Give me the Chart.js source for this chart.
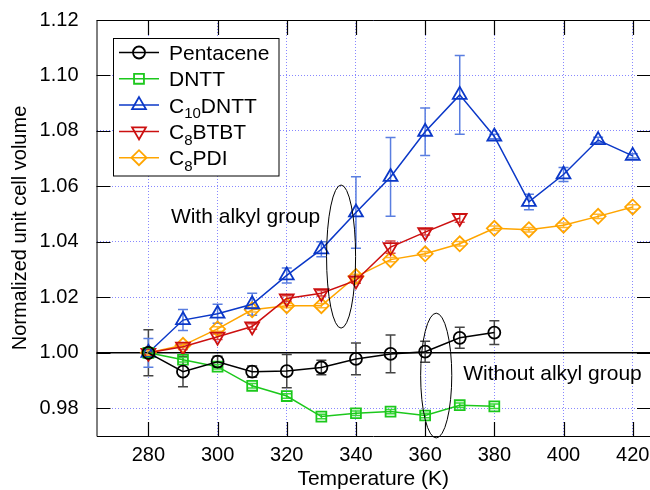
<!DOCTYPE html>
<html><head><meta charset="utf-8">
<script src="https://cdn.jsdelivr.net/npm/chart.js@4.4.0/dist/chart.umd.min.js"></script>
<style>html,body{margin:0;padding:0;background:#fff;overflow:hidden}canvas{display:block}</style>
</head><body>
<canvas id="c" width="650" height="490"></canvas>
<script>
// ---- data ----
const temps = [280, 290, 300, 310, 320, 330, 340, 350, 360, 370, 380, 390, 400, 410, 420];
const xTickValues = [280, 300, 320, 340, 360, 380, 400, 420];
const yTickValues = [0.98, 1.00, 1.02, 1.04, 1.06, 1.08, 1.10, 1.12];

const seriesNames = ['Pentacene', 'DNTT', 'C₁₀DNTT', 'C₈BTBT', 'C₈PDI'];

const pentacene    = [1.000, 0.9932, 0.9968, 0.9932, 0.9934, 0.9947, 0.9978, 0.9996, 1.0004, 1.0054, 1.0073];
const pentaceneErr = [0.0083, 0.0054, 0.0020, 0.0020, 0.0060, 0.0026, 0.0057, 0.0068, 0.0038, 0.0038, 0.0043];

const dntt    = [1.000, 0.9975, 0.9950, 0.9881, 0.9844, 0.9770, 0.9782, 0.9788, 0.9774, 0.9811, 0.9807];
const dnttErr = [0.0008, 0.0008, 0.0008, 0.0008, 0.0008, 0.0008, 0.0008, 0.0008, 0.0008, 0.0008, 0.0008];

const c10dntt    = [1.000, 1.0118, 1.0141, 1.0175, 1.0279, 1.0373, 1.0506, 1.0634, 1.0797, 1.0930, 1.0780, 1.0544, 1.0643, 1.0767, 1.0710];
const c10dnttErr = [0.0052, 0.0038, 0.0034, 0.0040, 0.0027, 0.0027, 0.0129, 0.0142, 0.0086, 0.0142, 0.0008, 0.0028, 0.0025, 0.0010, 0.0008];

const c8btbt    = [1.000, 1.0022, 1.0058, 1.0095, 1.0196, 1.0215, 1.0261, 1.0381, 1.0435, 1.0486];
const c8btbtErr = [0.0008, 0.0010, 0.0010, 0.0010, 0.0010, 0.0010, 0.0010, 0.0022, 0.0010, 0.0015];

const c8pdi    = [1.000, 1.0027, 1.0086, 1.0155, 1.0170, 1.0170, 1.0275, 1.0336, 1.0357, 1.0393, 1.0449, 1.0444, 1.0460, 1.0492, 1.0526];
const c8pdiErr = [0.0008, 0.0008, 0.0008, 0.0008, 0.0008, 0.0008, 0.0008, 0.0008, 0.0008, 0.0008, 0.0008, 0.0008, 0.0008, 0.0008, 0.0008];

const annotationTexts = ['With alkyl group', 'Without alkyl group'];
// ---- end data ----

const FONT = "'Liberation Sans', Arial, sans-serif";
const seriesValues = [pentacene, dntt, c10dntt, c8btbt, c8pdi];
const seriesErrors = [pentaceneErr, dnttErr, c10dnttErr, c8btbtErr, c8pdiErr];
const styles = [
  {color: '#000000', err: '#444444', pointStyle: 'circle',   rotation: 0,   radius: 6},
  {color: '#1cc81c', err: '#3ad83a', pointStyle: 'rect',     rotation: 0,   radius: 7},
  {color: '#0b38c8', err: '#5a7ee0', pointStyle: 'triangle', rotation: 0,   radius: 8},
  {color: '#cc1010', err: '#d84545', pointStyle: 'triangle', rotation: 180, radius: 8},
  {color: '#ffa500', err: '#ffb733', pointStyle: 'rectRot',  rotation: 0,   radius: 7.5}
];

const datasets = seriesValues.map((vals, i) => ({
  label: seriesNames[i],
  data: vals.map((v, j) => ({x: temps[j], y: v})),
  borderColor: styles[i].color,
  borderWidth: 1.5,
  pointStyle: styles[i].pointStyle,
  pointRotation: styles[i].rotation,
  pointRadius: styles[i].radius,
  pointBorderWidth: 1.8,
  pointBorderColor: styles[i].color,
  pointBackgroundColor: 'rgba(0,0,0,0)',
  fill: false,
  tension: 0
}));

function drawRich(ctx, text, x, y, size) {
  const subMap = {'₀':'0','₁':'1','₂':'2','₃':'3','₄':'4','₅':'5','₆':'6','₇':'7','₈':'8','₉':'9'};
  let cx = x;
  let buf = '', sub = false;
  const flush = () => {
    if (!buf) return;
    ctx.font = (sub ? Math.round(size * 0.72) : size) + 'px ' + FONT;
    ctx.fillText(buf, cx, sub ? y + size * 0.28 : y);
    cx += ctx.measureText(buf).width;
    buf = '';
  };
  for (const ch of text) {
    const isSub = ch in subMap;
    if (isSub !== sub) { flush(); sub = isSub; }
    buf += isSub ? subMap[ch] : ch;
  }
  flush();
}

const overlay = {
  id: 'overlay',
  beforeDatasetsDraw(chart) {
    const ctx = chart.ctx, xs = chart.scales.x, ys = chart.scales.y, a = chart.chartArea;
    ctx.save();
    ctx.strokeStyle = '#000'; ctx.lineWidth = 1.5;
    const y1 = ys.getPixelForValue(1.0);
    ctx.beginPath(); ctx.moveTo(a.left, y1); ctx.lineTo(a.right, y1); ctx.stroke();
    seriesValues.forEach((vals, i) => {
      ctx.strokeStyle = styles[i].err; ctx.lineWidth = 1.5;
      vals.forEach((v, j) => {
        const e = seriesErrors[i][j];
        const px = xs.getPixelForValue(temps[j]);
        const top = ys.getPixelForValue(v + e), bot = ys.getPixelForValue(v - e);
        ctx.beginPath();
        ctx.moveTo(px, top); ctx.lineTo(px, bot);
        ctx.moveTo(px - 5, top); ctx.lineTo(px + 5, top);
        ctx.moveTo(px - 5, bot); ctx.lineTo(px + 5, bot);
        ctx.stroke();
      });
    });
    ctx.restore();
  },
  afterDraw(chart) {
    const ctx = chart.ctx, xs = chart.scales.x, ys = chart.scales.y, a = chart.chartArea;
    ctx.save();
    ctx.strokeStyle = '#000'; ctx.lineWidth = 1;
    ctx.beginPath();
    ctx.moveTo(a.right, a.top + 0.5); ctx.lineTo(a.left + 0.5, a.top + 0.5);
    ctx.lineTo(a.left + 0.5, a.bottom + 0.5); ctx.lineTo(a.right, a.bottom + 0.5);
    ctx.stroke();
    ctx.lineWidth = 1.2;
    ctx.beginPath();
    xTickValues.forEach(v => {
      const px = Math.round(xs.getPixelForValue(v)) + 0.5;
      ctx.moveTo(px, a.bottom); ctx.lineTo(px, a.bottom - 14);
      ctx.moveTo(px, a.top); ctx.lineTo(px, a.top + 15);
    });
    yTickValues.forEach(v => {
      const py = Math.round(ys.getPixelForValue(v)) + 0.5;
      ctx.moveTo(a.left, py); ctx.lineTo(a.left + 14, py);
      ctx.moveTo(a.right, py); ctx.lineTo(a.right - 13, py);
    });
    ctx.stroke();
    ctx.lineWidth = 1;
    const ell = (cxv, cyv, rxv, ryv) => {
      const cx = xs.getPixelForValue(cxv), cy = ys.getPixelForValue(cyv);
      const rx = Math.abs(xs.getPixelForValue(cxv + rxv) - cx);
      const ry = Math.abs(ys.getPixelForValue(cyv + ryv) - cy);
      ctx.beginPath(); ctx.ellipse(cx, cy, rx, ry, 0, 0, Math.PI * 2); ctx.stroke();
    };
    ell(335.7, 1.0347, 4.2, 0.0258);
    ell(363.2, 0.9918, 4.5, 0.0225);
    ctx.fillStyle = '#000';
    ctx.font = '21px ' + FONT;
    ctx.textBaseline = 'alphabetic';
    ctx.textAlign = 'left';
    ctx.fillText(annotationTexts[0], xs.getPixelForValue(286.5), ys.getPixelForValue(1.0467));
    ctx.fillText(annotationTexts[1], xs.getPixelForValue(371.0), ys.getPixelForValue(0.9902));
    const lx = 113.5, ly = 38.5, lw = 165.5, lh = 137.5;
    ctx.fillStyle = '#fff';
    ctx.fillRect(lx, ly, lw, lh);
    ctx.strokeStyle = '#000'; ctx.lineWidth = 1;
    ctx.strokeRect(lx, ly, lw, lh);
    styles.forEach((s, i) => {
      const ry = 52.5 + i * 26.3;
      ctx.strokeStyle = s.color; ctx.lineWidth = 1.5;
      ctx.beginPath(); ctx.moveTo(119, ry); ctx.lineTo(159, ry); ctx.stroke();
      ctx.lineWidth = 1.8;
      ctx.fillStyle = 'rgba(0,0,0,0)';
      Chart.helpers.drawPoint(ctx, {pointStyle: s.pointStyle, rotation: s.rotation, radius: s.radius, borderWidth: 1.8}, 139, ry);
      ctx.fillStyle = '#000';
      ctx.textBaseline = 'alphabetic';
      drawRich(ctx, seriesNames[i], 169, ry + 7.5, 21);
    });
    ctx.restore();
  }
};

new Chart(document.getElementById('c'), {
  type: 'line',
  data: {datasets},
  plugins: [overlay],
  options: {
    responsive: false,
    animation: false,
    devicePixelRatio: 1,
    layout: {autoPadding: false, padding: {top: 20, right: 0, left: 0, bottom: 0}},
    plugins: {legend: {display: false}, tooltip: {enabled: false}},
    scales: {
      x: {
        type: 'linear', min: 265, max: 425,
        afterBuildTicks: s => { s.ticks = xTickValues.map(v => ({value: v})); },
        afterFit: s => { s.height = 54; s.paddingLeft = 0; s.paddingRight = 0; },
        grid: {color: '#8888ff', lineWidth: 1, drawTicks: false},
        border: {display: false, dash: [1, 2]},
        ticks: {font: {family: FONT, size: 20}, color: '#000', padding: 7, maxRotation: 0, autoSkip: false,
                callback: v => String(v)},
        title: {display: true, text: 'Temperature (K)', color: '#000',
                font: {family: FONT, size: 21}, padding: {top: 0, bottom: -2}}
      },
      y: {
        type: 'linear', min: 0.97, max: 1.12,
        afterBuildTicks: s => { s.ticks = yTickValues.map(v => ({value: v})); },
        afterFit: s => { s.width = 96.5; s.paddingTop = 0; s.paddingBottom = 0; },
        grid: {color: '#8888ff', lineWidth: 1, drawTicks: false},
        border: {display: false, dash: [1, 2]},
        ticks: {font: {family: FONT, size: 20}, color: '#000', padding: 18, autoSkip: false,
                callback: v => Number(v).toFixed(2)},
        title: {display: true, text: 'Normalized unit cell volume', color: '#000',
                font: {family: FONT, size: 20}, padding: {top: 8, bottom: 0}}
      }
    }
  }
});
</script>
</body></html>
